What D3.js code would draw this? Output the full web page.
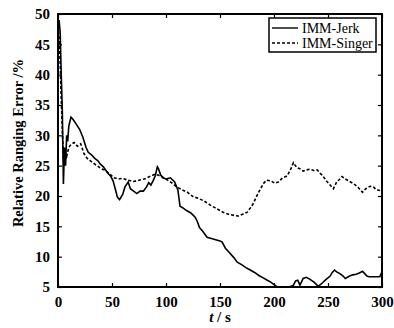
<!DOCTYPE html>
<html><head><meta charset="utf-8">
<script src="https://cdn.jsdelivr.net/npm/d3@7"></script>
<style>body{margin:0;background:#fff}svg{display:block}</style>
</head><body><svg id="c" width="394" height="328"></svg>
<script>
const seriesNames = ["IMM-Jerk", "IMM-Singer"];
const xTicks = [0, 50, 100, 150, 200, 250, 300];
const yTicks = [5, 10, 15, 20, 25, 30, 35, 40, 45, 50];
const jerkT = [0,1,2,3,4,5,6,7,8,9,10,12,14,17,20,23,26,28,31,34,37,39,42,46,49,51,53,55,57,60,62,65,67,70,73,76,79,82,84,86,88,90,92,93,95,97,100,104,108,111,113,116,119,123,127,129,131,134,138,142,146,150,152,155,159,163,166,170,174,178,182,186,190,193,197,200,203,207,212,216,218,220,222,224,227,230,233,237,241,245,248,252,254,256,258,261,264,266,270,273,276,279,282,284,286,288,292,295,298,300];
const jerkV = [48,49,47,40,34,22,28,25,30,29,31.5,33,32.6,31.8,31,29.7,28,27.2,26.8,26.2,25.8,25.3,24.8,23.8,23.2,22.5,21.2,19.8,19.4,20.3,21.5,22.3,21.2,20.8,20.4,20.8,20.8,21.5,22.2,21.8,22.5,23.3,24.8,24.5,23.5,23,22.8,23,22.3,21,18.3,18,17.6,17.2,16.5,15.8,14.8,14.2,13.2,13,12.8,12.6,12.4,11.4,10.6,9.8,9.1,8.7,8.2,7.8,7.4,6.9,6.5,6.2,5.8,5.4,5,5,5,5.1,5.3,6,6.1,5.3,6.4,6.6,6.3,5.8,5.1,5.7,6.2,6.8,7.4,7.8,7.5,7.2,6.8,6.4,6.8,7,7.1,7.3,7.6,7.2,6.8,6.7,6.7,6.7,6.7,7.5];
const singerT = [0,1,2,3,4,5,6,7,8,10,12,15,18,21,24,27,30,33,36,40,44,48,52,56,60,65,70,75,80,85,90,93,96,100,105,110,115,120,125,130,135,141,147,153,158,163,167,171,175,178,181,184,187,190,193,197,201,204,208,212,215,218,221,224,227,230,233,237,240,243,245,248,252,255,258,261,263,266,270,274,278,282,285,289,292,295,298,300];
const singerV = [48,46,42,36,31,26,25,27,26.5,28,28.5,28.8,28.2,28.6,27,26.2,25.8,25.4,25,24.5,24.2,23.6,23,22.8,22.9,22.6,22.4,22.6,22.8,23.2,23.6,23.4,23.2,22.8,22.2,21.5,21,20.6,19.9,19.6,19.2,18.5,17.9,17.3,17,16.8,16.7,17,17.3,18,18.8,20,21,22,22.6,22.5,22.1,22.3,23,23.3,24.2,25.5,24.7,24.5,24.1,24.3,24.4,24.2,24.3,23.7,23.4,22.6,21.8,21.2,22.3,22.8,23.2,22.8,22.4,22,21.4,20.6,21.2,21.6,21.5,21,20.9,20.6];

const svg = d3.select("#c");
const m = {l:58, r:12, t:14, b:41};
const W = 394, H = 328;
const x = d3.scaleLinear().domain([0,300]).range([m.l, W-m.r]);
const y = d3.scaleLinear().domain([5,50]).range([H-m.b, m.t]);
const font = "'Liberation Serif','Times New Roman',serif";

const g = svg.append("g");
// clip
svg.append("clipPath").attr("id","pc").append("rect")
  .attr("x", m.l).attr("y", m.t).attr("width", W-m.l-m.r).attr("height", H-m.t-m.b);

const line = d3.line().x(d=>x(d[0])).y(d=>y(d[1]));
const jerk = jerkT.map((t,i)=>[t, jerkV[i]]);
const singer = singerT.map((t,i)=>[t, singerV[i]]);
const pg = svg.append("g").attr("clip-path","url(#pc)");
pg.append("path").datum(singer).attr("d", line).attr("fill","none")
  .attr("stroke","#000").attr("stroke-width",1.6).attr("stroke-dasharray","3,2");
pg.append("path").datum(jerk).attr("d", line).attr("fill","none")
  .attr("stroke","#000").attr("stroke-width",1.6);

// axes with inward ticks
const axB = d3.axisBottom(x).tickValues(xTicks).tickSize(-4).tickPadding(9);
const axL = d3.axisLeft(y).tickValues(yTicks).tickSize(-4).tickPadding(8);
const axT = d3.axisTop(x).tickValues(xTicks).tickSize(-4).tickFormat("");
const axR = d3.axisRight(y).tickValues(yTicks).tickSize(-4).tickFormat("");
function style(sel){
  sel.select(".domain").remove();
  sel.selectAll("line").attr("stroke","#000").attr("stroke-width",1.2);
  sel.selectAll("text").attr("font-family",font).attr("font-weight","bold").attr("font-size",15).attr("fill","#000");
}
svg.append("g").attr("transform",`translate(0,${H-m.b})`).call(axB).call(style);
svg.append("g").attr("transform",`translate(${m.l},0)`).call(axL).call(style);
svg.append("g").attr("transform",`translate(0,${m.t})`).call(axT).call(style);
svg.append("g").attr("transform",`translate(${W-m.r},0)`).call(axR).call(style);

svg.append("rect").attr("x",m.l).attr("y",m.t).attr("width",W-m.l-m.r).attr("height",H-m.t-m.b)
  .attr("fill","none").attr("stroke","#000").attr("stroke-width",2);

// axis titles
const xt = svg.append("text").attr("x", 220).attr("y", 322).attr("text-anchor","middle")
  .attr("font-family",font).attr("font-weight","bold").attr("font-size",15);
xt.append("tspan").attr("font-style","italic").text("t");
xt.append("tspan").text(" / s");
svg.append("text").attr("transform","translate(23,143) rotate(-90)").attr("text-anchor","middle")
  .attr("font-family",font).attr("font-weight","bold").attr("font-size",14.5).text("Relative Ranging Error /%");

// legend
const lg = svg.append("g");
lg.append("rect").attr("x",269).attr("y",18).attr("width",107).attr("height",34)
  .attr("fill","#fff").attr("stroke","#000").attr("stroke-width",1.5);
const ly = [28, 43];
seriesNames.forEach((n,i)=>{
  lg.append("line").attr("x1",272).attr("x2",298).attr("y1",ly[i]).attr("y2",ly[i])
    .attr("stroke","#000").attr("stroke-width",1.4).attr("stroke-dasharray", i? "3,2":null);
  lg.append("text").attr("x",302).attr("y",ly[i]+4.5).attr("font-family",font)
    .attr("font-size",14).text(n);
});
</script></body></html>
